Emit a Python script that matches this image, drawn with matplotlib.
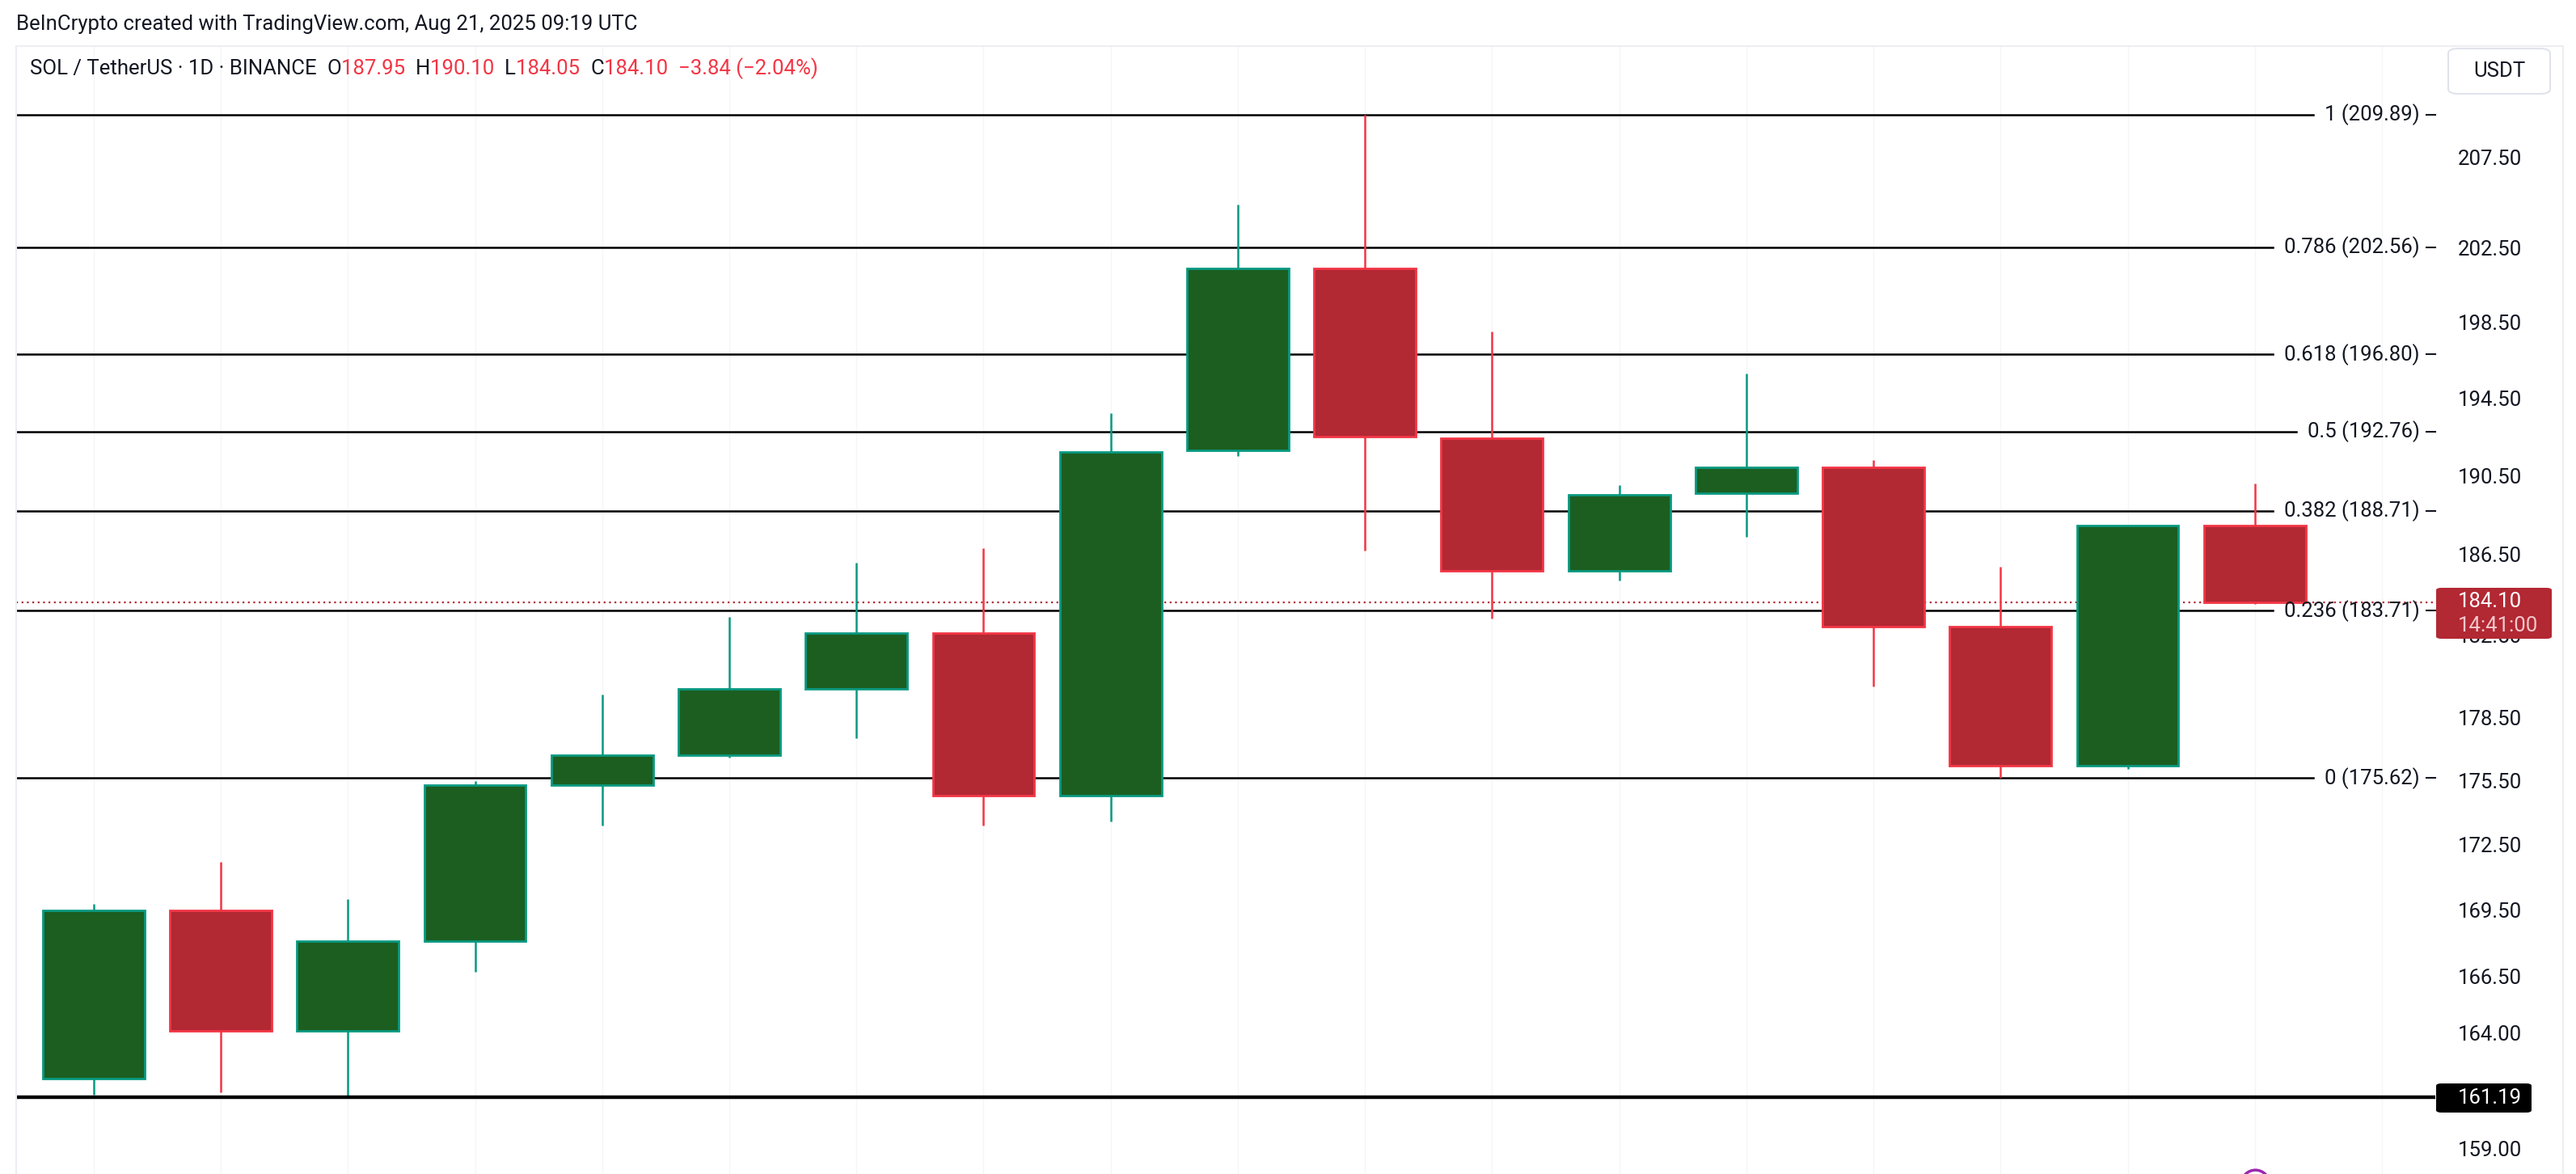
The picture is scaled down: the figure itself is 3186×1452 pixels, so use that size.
import matplotlib as mpl
mpl.use('Agg')
import matplotlib.pyplot as plt
import matplotlib.transforms as mtransforms
from matplotlib.lines import Line2D
from matplotlib.patches import FancyBboxPatch

plt.rcParams['font.family'] = ['Roboto', 'DejaVu Sans']

# SOL/USDT daily candles
opens = [162.0, 169.5, 164.1, 168.1, 175.3, 176.7, 179.9, 182.6, 174.8, 191.8,
         201.4, 192.4, 185.7, 189.6, 190.9, 182.9, 176.2, 187.95]
highs = [169.8, 171.7, 170.0, 175.5, 179.6, 183.4, 186.1, 186.8, 193.7, 204.9,
         209.89, 198.0, 190.0, 195.8, 191.3, 185.9, 187.9, 190.10]
lows = [161.3, 161.4, 161.19, 166.7, 173.4, 176.6, 177.5, 173.4, 173.6, 191.5,
        186.7, 183.3, 185.2, 187.4, 180.0, 175.65, 176.05, 184.05]
closes = [169.5, 164.1, 168.1, 175.3, 176.7, 179.9, 182.6, 174.8, 191.7, 201.4,
          192.5, 185.7, 189.5, 190.9, 182.9, 176.2, 187.94, 184.10]

fib_ratios = ['1', '0.786', '0.618', '0.5', '0.382', '0.236', '0']
fib_prices = [209.89, 202.56, 196.80, 192.76, 188.71, 183.71, 175.62]
support = 161.19
last_price = 184.10
countdown = '14:41:00'
axis_ticks = [207.5, 202.5, 198.5, 194.5, 190.5, 186.5, 182.5, 178.5, 175.5,
              172.5, 169.5, 166.5, 164.0, 159.0]

W, H = 3186, 1452
UP_BODY, UP_EDGE = '#1b5e20', '#089981'
DN_BODY, DN_EDGE = '#b22833', '#f23645'
TXT = '#131722'
FS = 18.5

def fx(px):
    return px / W

def fy(py):
    return 1 - py / H

fig = plt.figure(figsize=(W / 100, H / 100), dpi=100)
fig.patch.set_facecolor('white')

# chart pane: x 20..3012 px, y 57..1452 px
ax_l, ax_r, ax_t, ax_b = 20, 3012, 57, 1452
ax = fig.add_axes([fx(ax_l), fy(ax_b), fx(ax_r - ax_l), (ax_b - ax_t) / H])
ax.set_yscale('log')
ax.set_ylim(157.9, 213.8)
ax.set_xlim(-0.61, 18.42)
for s in ax.spines.values():
    s.set_visible(False)
ax.set_xticks([])

# right price scale
ax.yaxis.tick_right()
ax.yaxis.set_major_locator(mpl.ticker.FixedLocator(axis_ticks))
ax.yaxis.set_minor_locator(mpl.ticker.NullLocator())
ax.yaxis.set_minor_formatter(mpl.ticker.NullFormatter())
ax.yaxis.set_major_formatter(mpl.ticker.FormatStrFormatter('%.2f'))
ax.tick_params(axis='y', length=0, pad=20, labelsize=FS, labelcolor=TXT)

# faint vertical grid
for i in range(len(opens) + 1):
    ax.axvline(i, color='#f4f5f7', lw=1, zorder=0)

xs = list(range(len(opens)))
for i in xs:
    up = closes[i] >= opens[i]
    edge = UP_EDGE if up else DN_EDGE
    body = UP_BODY if up else DN_BODY
    ax.vlines(i, lows[i], highs[i], color=edge, lw=1.8, zorder=2)
    ax.bar(i, abs(closes[i] - opens[i]), bottom=min(opens[i], closes[i]),
           width=0.8, color=body, edgecolor=edge, linewidth=2.0, zorder=3)

trans = mtransforms.blended_transform_factory(ax.transAxes, ax.transData)

# fib labels + lines
fib_texts = []
for r, p in zip(fib_ratios, fib_prices):
    t = ax.text(0.9935, p, '%s (%.2f)' % (r, p), transform=trans, ha='right',
                va='center', fontsize=FS, color=TXT, zorder=5)
    fib_texts.append(t)
    ax.plot([0.9963, 1.0], [p, p], transform=trans, color=TXT, lw=1.5,
            clip_on=False, zorder=5)

fig.canvas.draw()
renderer = fig.canvas.get_renderer()
ax_box = ax.get_window_extent(renderer)
for t, p in zip(fib_texts, fib_prices):
    bb = t.get_window_extent(renderer)
    xend = (bb.x0 - 14 - ax_box.x0) / ax_box.width
    ax.plot([0, xend], [p, p], transform=trans, color='black', lw=1.8, zorder=1)

# support line and current price line
ax.plot([0, 1], [support, support], transform=trans, color='black', lw=3.2, zorder=4)
ax.plot([0, 1], [last_price, last_price], transform=trans, color=DN_BODY,
        lw=1.6, ls=(0, (1, 2)), zorder=1)

# event marker cut by the bottom edge
ax.plot(17, 157.48, marker='o', ms=25, mfc='white', mec='#9c27b0', mew=2.5,
        clip_on=False, zorder=6)

# price tags on the scale
fig.patches.append(FancyBboxPatch((fx(3013), fy(790)), fx(3156 - 3013), (790 - 727) / H,
                                  boxstyle='round,pad=0,rounding_size=0.002',
                                  transform=fig.transFigure, fc=DN_BODY, ec='none', zorder=10))
fig.text(fx(3040), fy(744), '%.2f' % last_price, fontsize=FS, color='white',
         va='center', ha='left', zorder=11)
fig.text(fx(3040), fy(774), countdown, fontsize=FS, color='#f3c7cb',
         va='center', ha='left', zorder=11)
fig.patches.append(FancyBboxPatch((fx(3013), fy(1376)), fx(3131 - 3013), (1376 - 1340) / H,
                                  boxstyle='round,pad=0,rounding_size=0.002',
                                  transform=fig.transFigure, fc='black', ec='none', zorder=10))
fig.text(fx(3040), fy(1358), '%.2f' % support, fontsize=FS, color='white',
         va='center', ha='left', zorder=11)

# USDT button
fig.patches.append(FancyBboxPatch((fx(3028), fy(116)), fx(3154 - 3028), (116 - 60) / H,
                                  boxstyle='round,pad=0,rounding_size=0.004',
                                  transform=fig.transFigure, fc='white', ec='#e0e3eb',
                                  lw=1.5, zorder=10))
fig.text(fx(3091), fy(88), 'USDT', fontsize=FS, color=TXT, ha='center', va='center', zorder=11)

# pane borders
for (x0, y0, x1, y1) in [(20, 57, 3170, 57), (20, 57, 20, 1452), (3170, 57, 3170, 1452)]:
    fig.add_artist(Line2D([fx(x0), fx(x1)], [fy(y0), fy(y1)], color='#eceef2', lw=1.5))

# header
fig.text(fx(20), fy(30), 'BeInCrypto created with TradingView.com, Aug 21, 2025 09:19 UTC',
         fontsize=FS, color=TXT, va='center', ha='left')

# OHLC legend, chained pieces
pieces = [('SOL / TetherUS · 1D · BINANCE  ', TXT), ('O', TXT), ('187.95  ', DN_EDGE),
          ('H', TXT), ('190.10  ', DN_EDGE), ('L', TXT), ('184.05  ', DN_EDGE),
          ('C', TXT), ('184.10  ', DN_EDGE), ('\u22123.84 (\u22122.04%)', DN_EDGE)]
prev = fig.text(fx(37), fy(85), pieces[0][0], fontsize=FS, color=pieces[0][1],
                va='center', ha='left')
for s, c in pieces[1:]:
    prev = ax.annotate(s, xy=(1, 0.5), xycoords=prev, va='center', ha='left',
                       fontsize=FS, color=c, annotation_clip=False)

fig.savefig('out.png', dpi=100, facecolor='white')
